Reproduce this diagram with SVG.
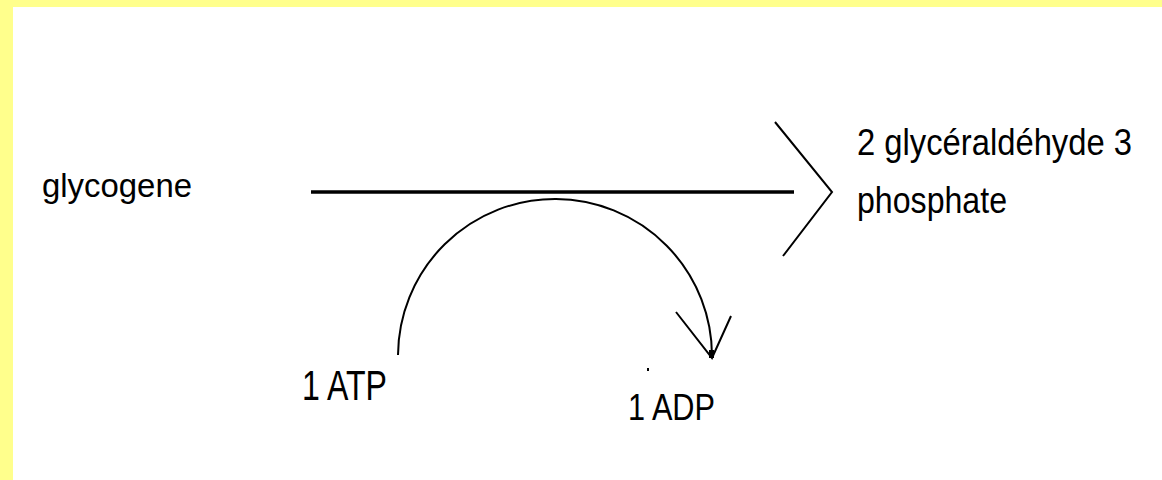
<svg xmlns="http://www.w3.org/2000/svg" width="1162" height="480" viewBox="0 0 1162 480">
<style>
.t{font-family:"Liberation Sans",Arial,sans-serif;fill:#000}
.ln{stroke:#000;fill:none;stroke-width:2}
</style>
<rect x="0" y="0" width="1162" height="480" fill="#ffffff"/>
<rect x="0" y="0" width="1162" height="7" fill="#ffff8c"/>
<rect x="0" y="0" width="13" height="480" fill="#ffff8c"/>
<g id="glycogene"><text class="t" x="42" y="197" font-size="34" textLength="150" lengthAdjust="spacingAndGlyphs">glycogene</text></g>
<g id="g3p">
<text class="t" x="857" y="155" font-size="36" textLength="275" lengthAdjust="spacingAndGlyphs">2 glycéraldéhyde 3</text>
<text class="t" x="857" y="213" font-size="36" textLength="150" lengthAdjust="spacingAndGlyphs">phosphate</text>
</g>
<g id="atp"><text class="t" x="302" y="400" font-size="42" textLength="85" lengthAdjust="spacingAndGlyphs">1 ATP</text></g>
<g id="adp"><text class="t" x="628" y="420" font-size="37" textLength="87" lengthAdjust="spacingAndGlyphs">1 ADP</text>
<rect x="647" y="368" width="2" height="3" fill="#000"/></g>
<g id="connectors">
<line x1="311" y1="192" x2="794" y2="192" stroke="#000" stroke-width="3.5"/>
<polyline class="ln" points="775,122 832,192 783,256"/>
<path class="ln" d="M398,355 A157,157 0 0 1 712,357"/>
<polyline class="ln" points="676,312 712,358 731,316"/>
<rect x="709" y="350" width="5" height="8" fill="#000"/>
</g>
</svg>
